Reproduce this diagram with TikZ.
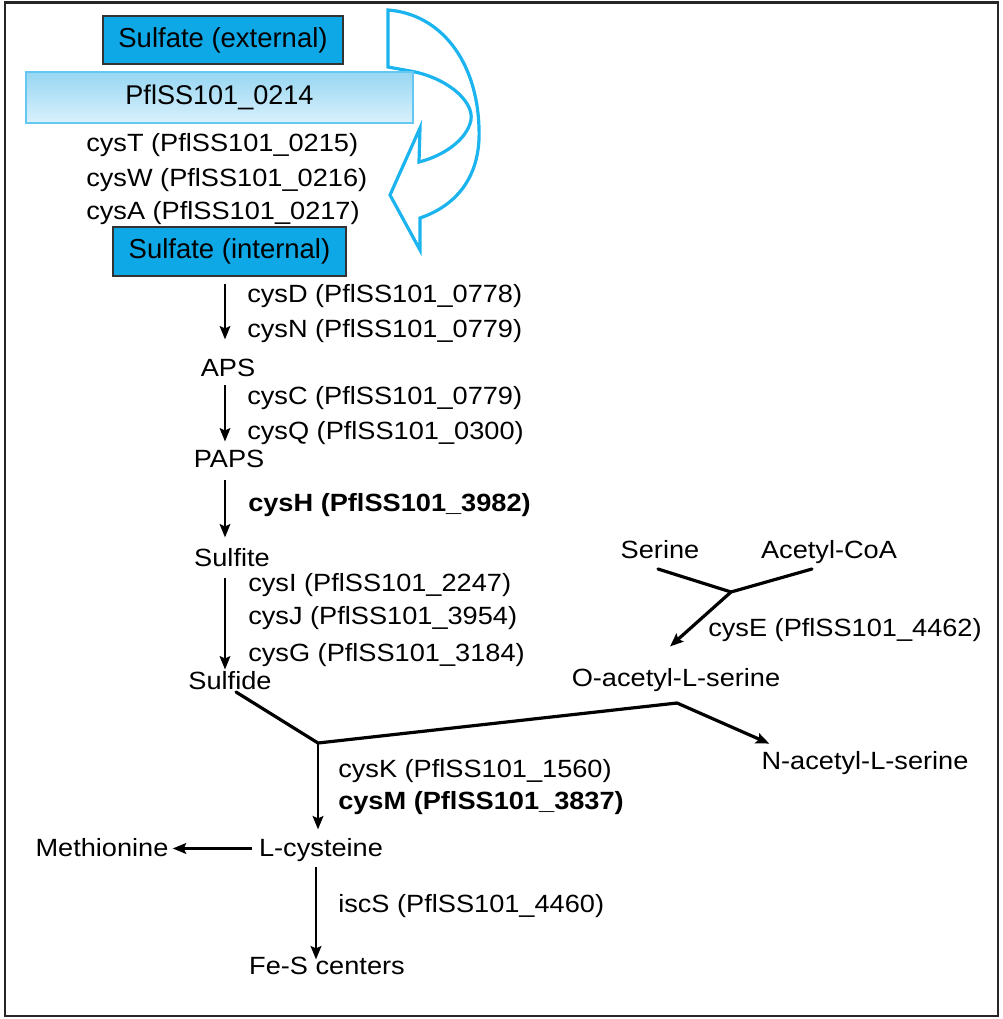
\documentclass[tikz,border=0pt]{standalone}
\usepackage{fontspec}
\setmainfont{Liberation Sans}
\newfontfamily\labfont[FakeStretch=1.09]{Liberation Sans}
\usetikzlibrary{arrows.meta}
\definecolor{boxblue}{RGB}{14,168,230}
\definecolor{arrcyan}{RGB}{28,180,238}
\definecolor{pfltop}{RGB}{150,214,242}
\definecolor{pflbot}{RGB}{218,241,252}
\definecolor{pflline}{RGB}{100,200,240}
\begin{document}
\begin{tikzpicture}[x=0.75pt,y=-0.75pt,
  lab/.style={font=\labfont\fontsize{18.7}{22}\selectfont, inner sep=0pt, text height=12.4pt, text depth=0pt},
  glab/.style={lab, anchor=south west},
  met/.style={lab, anchor=south},
  boldlab/.style={font=\labfont\bfseries\fontsize{18.7}{22}\selectfont},
  sbox/.style={draw=black!80, line width=1.1pt, fill=boxblue, inner sep=0pt, font=\fontsize{20.6}{24}\selectfont},
  pflbox/.style={draw=pflline, line width=0.8pt, top color=pfltop, bottom color=pflbot, inner sep=0pt, font=\fontsize{20.3}{24}\selectfont},
  tip/.style={-{Stealth[length=10pt,width=8pt,inset=1.8pt]}},
  arr/.style={line width=1.7pt, tip},
  arrb/.style={line width=2pt, tip},
  branch/.style={line width=2.4pt, line cap=round, line join=round},
  branchar/.style={branch, tip},
  curvearrow/.style={draw=arrcyan, line width=2.4pt, line join=miter}
]
\useasboundingbox (0,0) rectangle (1002,1019);
\draw[line width=1.6pt, black!85] (5,2.5) rectangle (998,1016);

% curved transport arrow
\draw[curvearrow] (388,10) -- (388,67) -- (410,71)
  .. controls (445,77) and (474,100) .. (471,120)
  .. controls (467,140) and (443,156) .. (419,162)
  -- (420,128) -- (390,195) -- (420,250) -- (420,218)
  .. controls (458,205) and (481,175) .. (479,128)
  .. controls (477,60) and (440,14) .. (388,10)
  -- cycle;

% boxes
\node[sbox, minimum width=180pt, minimum height=36pt] (sext) at (223,40) {Sulfate (external)};
\node[pflbox, minimum width=290.25pt, minimum height=38.25pt] (pfl) at (219.5,97.5) {PflSS101\_0214};

\node[glab] (cT) at (86,152) {cysT (PflSS101\_0215)};
\node[glab] (cW) at (86,187) {cysW (PflSS101\_0216)};
\node[glab] (cA) at (86,220) {cysA (PflSS101\_0217)};

\node[sbox, minimum width=174.75pt, minimum height=36.75pt] (sint) at (229.5,251.5) {Sulfate (internal)};

% metabolites
\node[met] (aps) at (228,377) {APS};
\node[met] (paps) at (229,468) {PAPS};
\node[met] (sulfite) at (232,567) {Sulfite};
\node[met] (sulfide) at (230,690) {Sulfide};
\node[met] (serine) at (660,559) {Serine};
\node[met] (acoa) at (829,559) {Acetyl-CoA};
\node[met] (oacet) at (676,687) {O-acetyl-L-serine};
\node[met] (nacet) at (865,770) {N-acetyl-L-serine};
\node[met] (lcys) at (321,857) {L-cysteine};
\node[met] (meth) at (102,857) {Methionine};
\node[met] (fes) at (327,975) {Fe-S centers};

% gene labels
\node[glab] (cD) at (247,303) {cysD (PflSS101\_0778)};
\node[glab] (cN) at (247,338) {cysN (PflSS101\_0779)};
\node[glab] (cC) at (247,405) {cysC (PflSS101\_0779)};
\node[glab] (cQ) at (247,440) {cysQ (PflSS101\_0300)};
\node[glab, boldlab] (cH) at (248,512) {cysH (PflSS101\_3982)};
\node[glab] (cI) at (248,592) {cysI (PflSS101\_2247)};
\node[glab] (cJ) at (248,625) {cysJ (PflSS101\_3954)};
\node[glab] (cG) at (248,662) {cysG (PflSS101\_3184)};
\node[glab] (cE) at (708,637) {cysE (PflSS101\_4462)};
\node[glab] (cK) at (338,778) {cysK (PflSS101\_1560)};
\node[glab, boldlab] (cM) at (338,810) {cysM (PflSS101\_3837)};
\node[glab] (iS) at (338,913) {iscS (PflSS101\_4460)};

% helper coordinates
\coordinate (colA) at (225,0);
\coordinate (colC) at (316,0);
\coordinate (J1) at (318,743);
\coordinate (K) at (677,703);
\coordinate (J2) at (731,592);

% main column arrows
\draw[arr, shorten <=5.25pt, shorten >=15.4pt] (sint.south -| colA) -- (aps.north -| colA);
\draw[arr, shorten <=6pt, shorten >=7.1pt] (aps.south -| colA) -- (paps.north -| colA);
\draw[arr, shorten <=9pt, shorten >=9.4pt] (paps.south -| colA) -- (sulfite.north -| colA);
\draw[arr, shorten <=8.25pt, shorten >=2.6pt] (sulfite.south -| colA) -- (sulfide.north -| colA);

% serine branch
\draw[branch] ([xshift=-1.5pt,yshift=-7.5pt]serine.south) -- (J2);
\draw[branch] ([xshift=-12.75pt,yshift=-7.5pt]acoa.south) -- (J2);
\draw[branchar] (J2) -- ([xshift=-4.5pt,yshift=17.6pt]oacet.north);

% sulfide + O-acetyl-L-serine
\draw[branch] ([xshift=4.5pt,yshift=-1.5pt]sulfide.south) -- (J1) -- (K);
\draw[branchar] (K) -- ([xshift=6pt,yshift=7pt]nacet.north west);
\draw[arrb, shorten >=7.9pt] (J1) -- (J1 |- lcys.north);

% cysteine fates
\draw[arrb, shorten <=5.3pt, shorten >=3pt] (lcys.west) -- (meth.east);
\draw[arrb, shorten <=7.5pt, shorten >=-1.1pt] (lcys.south -| colC) -- (fes.north -| colC);
\end{tikzpicture}
\end{document}
